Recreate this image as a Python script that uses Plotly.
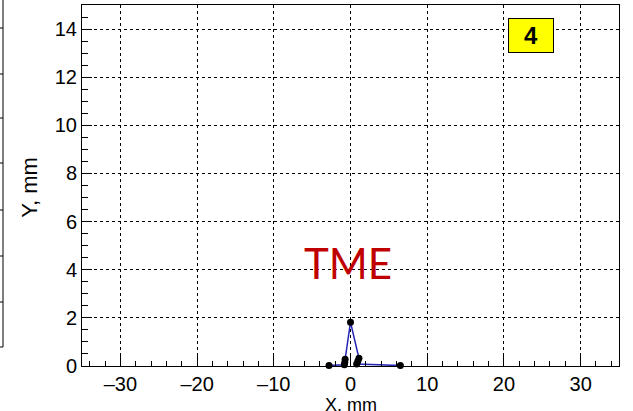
import plotly.graph_objects as go

# Reconstructed hit positions (mm), in track order
x_mm = [-2.8, -0.8, -0.75, -0.7, 0.0, 1.1, 0.95, 0.8, 6.5]
y_mm = [0.02, 0.05, 0.15, 0.28, 1.82, 0.32, 0.2, 0.08, 0.02]

x_range = [-35, 35]
y_range = [0, 15]
x_ticks = [-30, -20, -10, 0, 10, 20, 30]
y_ticks = [0, 2, 4, 6, 8, 10, 12, 14]
panel_label = "4"
detector_label = "TME"

fig = go.Figure()
fig.add_trace(go.Scatter(
    x=x_mm, y=y_mm, mode="lines+markers",
    line=dict(color="#2323b4", width=1.5),
    marker=dict(color="black", size=7),
    showlegend=False, cliponaxis=False,
))

tickfont = dict(family="Liberation Sans, Arial", size=20, color="black")
fig.update_xaxes(
    range=x_range, tickvals=x_ticks,
    ticktext=[f"\u2013{abs(v)}" if v < 0 else str(v) for v in x_ticks],
    ticks="inside", ticklen=10, tickcolor="black", tickwidth=1,
    minor=dict(ticks="inside", ticklen=5, dtick=2, tick0=0, tickcolor="black", showgrid=False),
    showgrid=True, gridcolor="black", griddash="3px,3px", gridwidth=1,
    showline=True, linecolor="black", linewidth=1, mirror=True,
    zeroline=False, tickfont=tickfont,
)
fig.update_yaxes(
    range=y_range, tickvals=y_ticks,
    ticks="inside", ticklen=10, tickcolor="black", tickwidth=1,
    minor=dict(ticks="inside", ticklen=6, dtick=0.5, tick0=0, tickcolor="black", showgrid=False),
    showgrid=True, gridcolor="black", griddash="3px,3px", gridwidth=1,
    showline=True, linecolor="black", linewidth=1, mirror=True,
    zeroline=False, tickfont=tickfont,
)

annotations = [
    dict(text="X, mm", x=0.5, y=-0.0748, xref="paper", yref="paper",
         xanchor="center", yanchor="top", showarrow=False,
         font=dict(family="Liberation Sans, Arial", size=18, color="black")),
    dict(text="Y, mm", x=-0.097, y=0.496, xref="paper", yref="paper",
         xanchor="center", yanchor="middle", showarrow=False, textangle=-90,
         font=dict(family="Liberation Sans, Arial", size=22, color="black")),
    dict(text=f"<b>{panel_label}</b>", x=0.8365, y=0.916, xref="paper", yref="paper",
         xanchor="center", yanchor="middle", showarrow=False,
         width=42, height=31, bgcolor="#ffff00", bordercolor="black", borderwidth=1,
         font=dict(family="Liberation Sans, Arial", size=24, color="black")),
    dict(text=detector_label, x=0.4955, y=0.285, xref="paper", yref="paper",
         xanchor="center", yanchor="middle", showarrow=False,
         font=dict(family="Lato, Noto Sans", size=42, color="#c00000")),
]

# Edge of the neighbouring panel on the left
shapes = [
    dict(type="line", xref="paper", yref="paper", x0=-0.1471, x1=-0.1471, y0=1.02, y1=0.0526,
         line=dict(color="black", width=1)),
    dict(type="line", xref="paper", yref="paper", x0=-0.16, x1=-0.1471, y0=0.0526, y1=0.0526,
         line=dict(color="black", width=1)),
]
for py in [28, 74, 118, 163, 210, 256, 302]:
    yp = (366 - py) / 361
    shapes.append(dict(type="line", xref="paper", yref="paper", x0=-0.16, x1=-0.1471,
                       y0=yp, y1=yp, line=dict(color="black", width=1)))

fig.update_layout(
    width=633, height=411,
    margin=dict(l=82, r=14, t=5, b=45),
    paper_bgcolor="white", plot_bgcolor="white",
    annotations=annotations, shapes=shapes,
)

fig.write_html("out.html")
